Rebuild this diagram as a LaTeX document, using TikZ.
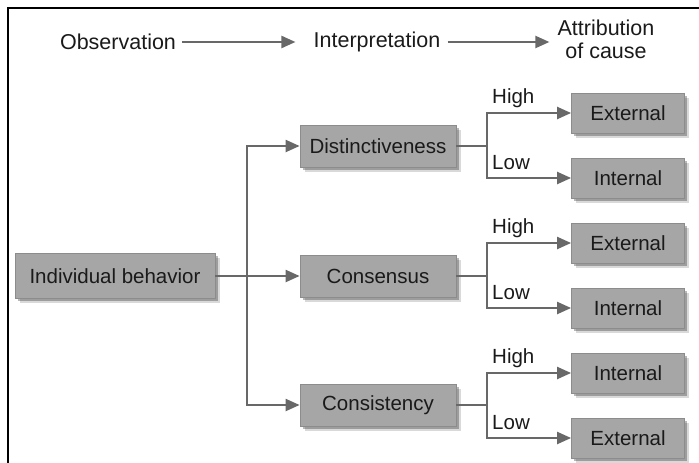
\documentclass[tikz,border=0pt]{standalone}
\usepackage{fontspec}
\setmainfont{Liberation Sans}
\usetikzlibrary{arrows.meta,shadows}
\definecolor{boxfill}{HTML}{A6A6A6}
\definecolor{boxline}{HTML}{8C8C8C}
\definecolor{linegray}{HTML}{686868}
\definecolor{txt}{HTML}{1A1A1A}
\tikzset{
  box/.style={draw=boxline, line width=0.8pt, fill=boxfill, text=txt,
    font=\fontsize{20.5}{23}\selectfont, inner sep=0pt,
    drop shadow={shadow xshift=4.5pt, shadow yshift=-4.5pt, fill=black, opacity=0.15},
    drop shadow={shadow xshift=2.5pt, shadow yshift=-2.5pt, fill=black, opacity=0.28}},
  bigbox/.style={box, minimum width=200pt, minimum height=45pt},
  midbox/.style={box, minimum width=156pt, minimum height=42pt},
  endbox/.style={box, minimum width=113pt, minimum height=40pt},
  head/.style={text=txt, font=\fontsize{21.5}{23}\selectfont, inner sep=0pt},
  lbl/.style={text=txt, font=\fontsize{20.5}{22}\selectfont, inner sep=0pt, anchor=west},
  conn/.style={draw=linegray, line width=2.2pt},
  arr/.style={conn, -{Triangle[length=14pt,width=12pt]}},
}
\begin{document}
\begin{tikzpicture}[x=1pt,y=-1pt]
\useasboundingbox (0,0) rectangle (699,463);
% frame
\draw[black, line width=2.2pt] (8,463) -- (8,8) -- (699,8);
% header
\node[head] (obs) at (118,42) {Observation};
\node[head] (interp) at (377,42) {Interpretation};
\node[head, align=center] (attr) at (606,39) {Attribution\\of cause};
\draw[arr, shorten <=6pt, shorten >=18pt] (obs) -- (interp);
\draw[arr, shorten <=7pt, shorten >=8pt] (interp.east) -- (interp.east -| attr.west);
% boxes
\node[bigbox] (ib) at (115,276) {Individual behavior};
\node[midbox] (dist) at (378,146) {Distinctiveness};
\node[midbox] (cons) at (378,276) {Consensus};
\node[midbox] (consi) at (378,405) {Consistency};
\node[endbox] (e1) at (628,113) {External};
\node[endbox] (i1) at (628,178) {Internal};
\node[endbox] (e2) at (628,243) {External};
\node[endbox] (i2) at (628,308) {Internal};
\node[endbox] (i3) at (628,373) {Internal};
\node[endbox] (e3) at (628,438) {External};
% junctions
\coordinate (j) at (247,276);
\coordinate (b1) at (487,146);
\coordinate (b2) at (487,276);
\coordinate (b3) at (487,405);
% main connectors
\draw[conn] (ib) -- (j);
\draw[arr] (j) |- (dist);
\draw[arr] (j) -- (cons);
\draw[arr] (j) |- (consi);
% branches
\draw[conn] (dist) -- (b1);
\draw[arr] (b1) |- (e1);
\draw[arr] (b1) |- (i1);
\draw[conn] (cons) -- (b2);
\draw[arr] (b2) |- (e2);
\draw[arr] (b2) |- (i2);
\draw[conn] (consi) -- (b3);
\draw[arr] (b3) |- (i3);
\draw[arr] (b3) |- (e3);
% labels
\node[lbl] (h1) at (492,98) {High};
\node[lbl] (l1) at (492,163) {Low};
\node[lbl] (h2) at (492,228) {High};
\node[lbl] (l2) at (492,293) {Low};
\node[lbl] (h3) at (492,358) {High};
\node[lbl] (l3) at (492,423) {Low};
\end{tikzpicture}
\end{document}
